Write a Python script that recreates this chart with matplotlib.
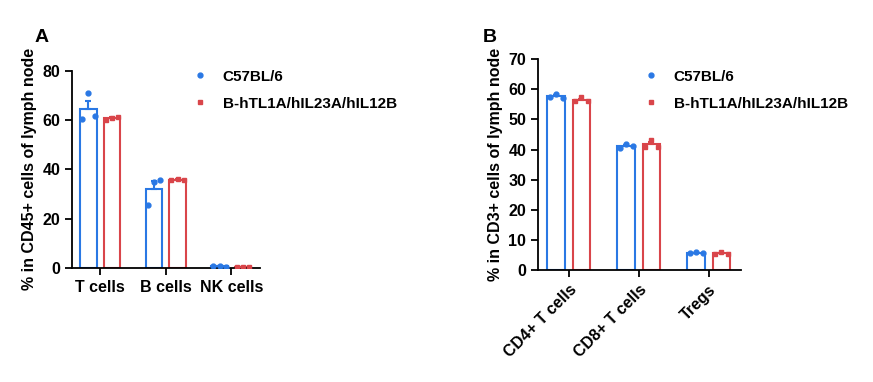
import numpy as np
import matplotlib.pyplot as plt
from matplotlib.lines import Line2D

plt.rcParams['font.family'] = ['Liberation Sans', 'DejaVu Sans']
plt.rcParams['font.weight'] = 'bold'
plt.rcParams['axes.labelweight'] = 'bold'

# Panel A data: % in CD45+ cells of lymph node (3 mice per group)
cats_a = ['T cells', 'B cells', 'NK cells']
wt_a = [[60.6, 71.1, 61.7], [25.4, 34.7, 35.5], [0.7, 0.8, 0.6]]
ko_a = [[60.0, 60.8, 61.2], [35.6, 36.2, 35.8], [0.5, 0.6, 0.5]]

# Panel B data: % in CD3+ cells of lymph node
cats_b = ['CD4+ T cells', 'CD8+ T cells', 'Tregs']
wt_b = [[57.3, 58.5, 57.0], [40.5, 41.8, 41.2], [5.8, 6.0, 5.8]]
ko_b = [[56.0, 57.3, 56.1], [41.0, 43.2, 41.0], [5.4, 6.2, 5.4]]

labels = ['C57BL/6', 'B-hTL1A/hIL23A/hIL12B']
blue = '#2A78E4'
red = '#D9454A'

fig = plt.figure(figsize=(8.73, 3.82), dpi=100)


def draw_panel(ax, cats, wt, ko, ymax, ystep, ylabel):
    x = np.arange(len(cats))
    off = 0.18
    width = 0.25
    jitter = np.array([-0.095, 0.0, 0.095])
    for vals, sign, color, marker, ms in [(wt, -1, blue, 'o', 3.5), (ko, 1, red, 's', 3.2)]:
        vals = np.array(vals)
        means = vals.mean(axis=1)
        sem = vals.std(axis=1, ddof=1) / np.sqrt(vals.shape[1])
        pos = x + sign * off
        ax.bar(pos, means, width=width, facecolor='white', edgecolor=color,
               linewidth=1.5, zorder=2)
        ax.errorbar(pos, means, yerr=[np.zeros_like(sem), sem], fmt='none',
                    ecolor=color, elinewidth=1.5, capsize=2.5, capthick=1.5, zorder=3)
        for i in range(len(cats)):
            ax.plot(pos[i] + jitter, vals[i], linestyle='none', marker=marker,
                    ms=ms, color=color, zorder=4)
    ax.set_xticks(x)
    ax.set_ylim(0, ymax)
    ax.set_yticks(np.arange(0, ymax + 1, ystep))
    ax.spines['top'].set_visible(False)
    ax.spines['right'].set_visible(False)
    for s in ['left', 'bottom']:
        ax.spines[s].set_linewidth(1.3)
    ax.tick_params(width=1.3, length=5, labelsize=11.5)
    ax.set_ylabel(ylabel, fontsize=11.5)
    handles = [Line2D([], [], linestyle='none', marker='o', ms=3.5, color=blue),
               Line2D([], [], linestyle='none', marker='s', ms=3.2, color=red)]
    return handles


legend_kw = dict(loc='upper left', bbox_transform=fig.transFigure, frameon=False,
                 fontsize=11, handlelength=1.2, handletextpad=0.9, labelspacing=0.85,
                 borderpad=0)

axA = fig.add_axes([0.0825, 0.2984, 0.2155, 0.5166])
h = draw_panel(axA, cats_a, wt_a, ko_a, 80, 20, '% in CD45+ cells of lymph node')
axA.set_xticklabels(cats_a)
axA.set_xlim(-0.43, 2.44)
axA.yaxis.set_label_coords(-0.185, 0.5)
axA.legend(h, labels, bbox_to_anchor=(183 / 873, 1 - 62 / 382), **legend_kw)

axB = fig.add_axes([0.6163, 0.2919, 0.2325, 0.5536])
h = draw_panel(axB, cats_b, wt_b, ko_b, 70, 10, '% in CD3+ cells of lymph node')
axB.set_xticklabels(cats_b, rotation=45, ha='right', rotation_mode='anchor')
axB.set_xlim(-0.44, 2.46)
axB.yaxis.set_label_coords(-0.175, 0.5)
axB.legend(h, labels, bbox_to_anchor=(634 / 873, 1 - 62 / 382), **legend_kw)

fig.text(35 / 873, 1 - 42 / 382, 'A', fontsize=14, fontweight='bold')
fig.text(483 / 873, 1 - 42 / 382, 'B', fontsize=14, fontweight='bold')

fig.savefig('out.png', dpi=100)
